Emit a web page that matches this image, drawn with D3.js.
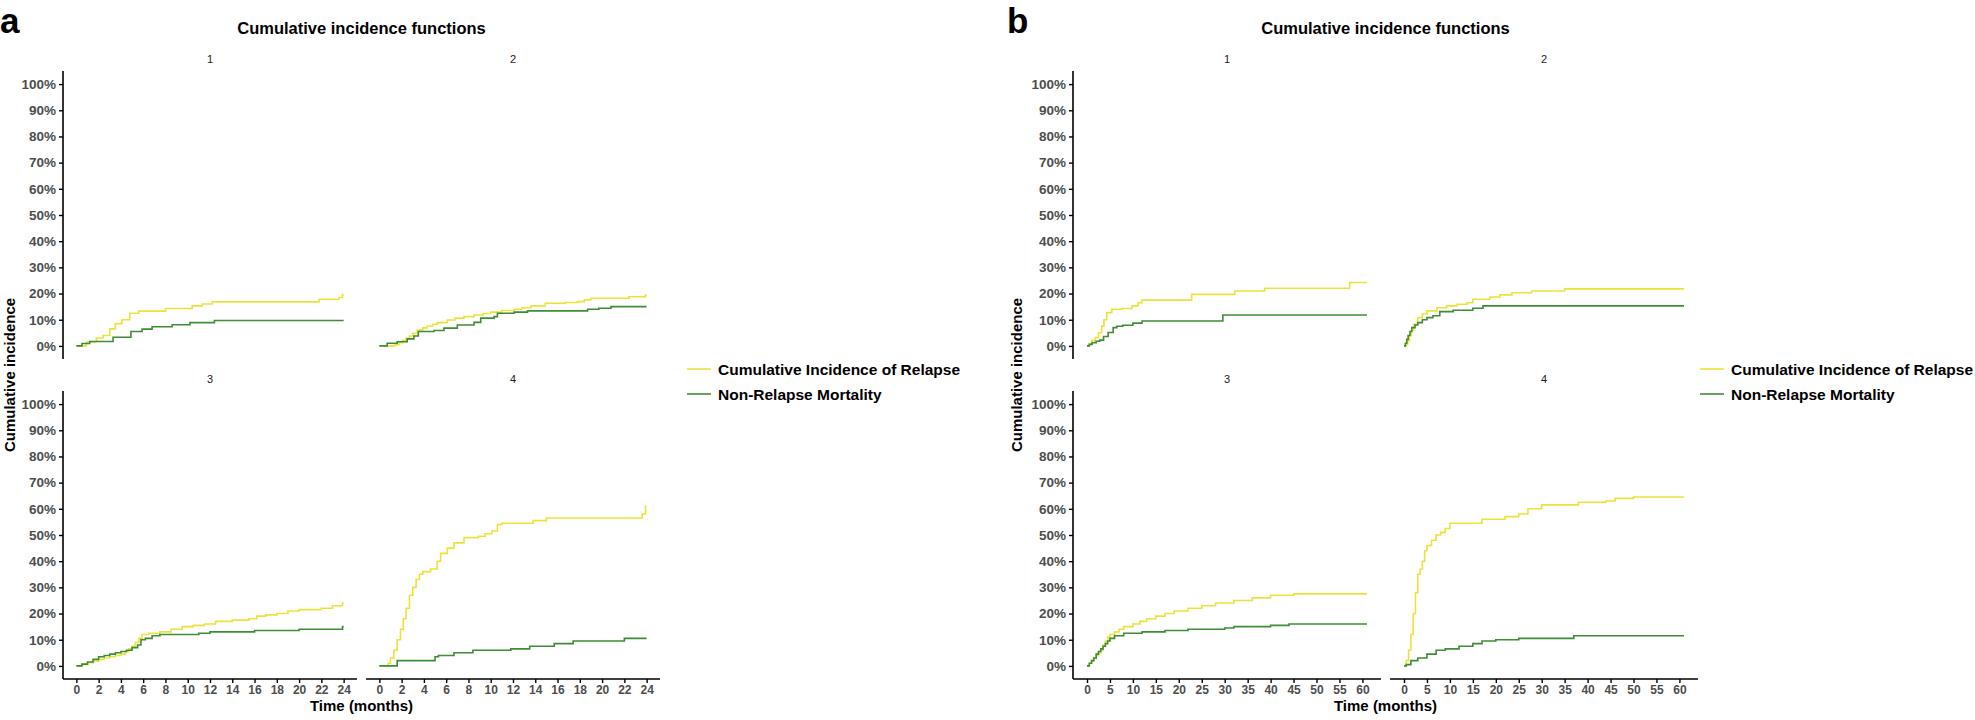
<!DOCTYPE html>
<html><head><meta charset="utf-8">
<script src="https://cdn.jsdelivr.net/npm/d3@7"></script>
<style>body{margin:0;background:#fff}svg{display:block}</style>
</head><body>
<svg id="c" width="1975" height="720"></svg>
<script>
// ---------- data ----------
const panelLetters = ["a", "b"];
const titleText = "Cumulative incidence functions";
const facetLabels = ["1", "2", "3", "4"];
const seriesNames = ["Cumulative Incidence of Relapse", "Non-Relapse Mortality"];
const seriesColors = ["#EBE33B", "#3F8C36"];
const yTickValues = [0, 10, 20, 30, 40, 50, 60, 70, 80, 90, 100];
const xTicksA = [0, 2, 4, 6, 8, 10, 12, 14, 16, 18, 20, 22, 24];
const xTicksB = [0, 5, 10, 15, 20, 25, 30, 35, 40, 45, 50, 55, 60];
const maxTimeA = 24;
const maxTimeB = 61;

// panel a, [time (months), cumulative incidence %]
const aRelapse1 = [[0,0],[0.9,1.5],[1.8,3],[2.4,4],[3,6.5],[3.5,8.5],[4.1,10],[4.8,12.5],[5.6,13.3],[8,14.3],[10.4,15.3],[11.3,16],[12.2,16.8],[21.8,17.8],[23.6,18.5],[23.9,19.6],[24,19.6]];
const aNRM1 = [[0,0],[0.5,0.9],[1.2,1.7],[3.3,3.3],[4.9,5.5],[5.9,6.4],[6.8,7.3],[8.6,8.1],[10.2,8.9],[12.4,9.7],[24,9.7]];
const aRelapse2 = [[0,0],[1.4,0.5],[1.8,1.2],[2.1,2.0],[2.4,2.9],[2.7,3.8],[3.0,4.8],[3.4,6.1],[3.9,6.9],[4.3,7.6],[4.8,8.3],[5.2,8.9],[6.1,9.9],[6.8,10.6],[7.6,11.2],[8.5,11.8],[9.3,12.4],[10.0,12.9],[11.0,13.5],[12.1,14.0],[12.8,14.6],[13.6,15.3],[14.9,16.3],[16.7,16.6],[17.8,16.9],[18.4,17.6],[19.0,18.2],[22.4,18.8],[23.9,19.5],[24,19.5]];
const aNRM2 = [[0,0],[0.7,1.0],[1.6,1.6],[2.5,2.7],[3.1,3.8],[3.5,5.5],[4.9,5.9],[5.8,6.8],[7.0,8.0],[8.5,9.0],[9.1,10.6],[10.3,11.2],[10.6,12.5],[12.1,12.9],[13.3,13.4],[18.7,14.0],[19.7,14.4],[20.8,15.0],[24,15.0]];
const aRelapse3 = [[0,0],[0.5,0.5],[1,1.2],[1.5,1.8],[2,2.5],[2.5,3],[3,3.5],[3.5,4],[4,4.5],[4.4,5.5],[4.7,6.5],[5,7.5],[5.3,9],[5.6,10.5],[5.9,12],[6.5,12.5],[7.5,13],[8.5,14],[9.5,15],[10.5,15.5],[11.5,16],[12.5,17],[14,17.5],[15.5,18],[16.2,19],[17,19.5],[18,20],[19,21],[20,21.5],[22,22],[23,23],[23.9,24],[24,24]];
const aNRM3 = [[0,0],[0.5,0.7],[1,1.5],[1.5,2.5],[2,3.5],[2.5,4],[3,4.5],[3.5,5],[4,5.5],[4.5,6],[5,7],[5.5,8],[5.8,10],[6.2,10.5],[6.8,11.5],[7.5,12],[11,12.5],[12,13],[16,13.5],[20,14],[23.9,15],[24,15]];
const aRelapse4 = [[0,0],[0.8,1],[1.0,3],[1.3,6],[1.6,10],[1.9,14],[2.15,18],[2.4,22],[2.7,27],[3.0,30],[3.3,33],[3.6,35],[3.9,36],[4.6,37],[5.2,40],[5.5,43],[6.1,45],[6.7,47],[7.6,49],[8.9,49.5],[9.5,50.5],[10.1,51.5],[10.6,54],[11,54.5],[13.8,55.5],[15,56.5],[23.6,58],[23.9,61],[24,61]];
const aNRM4 = [[0,0],[1.6,2],[5,3.5],[5.3,4],[6.7,5],[8.4,6],[11.8,6.5],[13.5,7.5],[15.7,8.5],[17.4,9.5],[22,10.5],[24,10.5]];

// panel b
const bRelapse1 = [[0,0],[0.5,0.8],[1,2],[1.8,3.2],[2.5,5],[3.2,7.6],[3.7,10],[4.3,12.7],[5.4,14.0],[7.6,14.3],[9.8,15.3],[11.1,16.5],[12,17.5],[22.8,19.7],[32.2,21],[38.7,22],[57.2,24.2],[61,24.2]];
const bNRM1 = [[0,0],[0.5,0.6],[1.1,1.2],[2.0,1.8],[2.8,2.2],[3.6,3.6],[4.6,5.1],[5.7,7.0],[6.5,7.5],[7.8,7.9],[10,8.7],[12,9.5],[29.6,11.8],[61,11.8]];
const bRelapse2 = [[0,0],[0.4,0.5],[0.8,2],[1.2,4],[1.6,6],[2.1,8.3],[3,10.8],[4,12.2],[5,13.4],[7.2,14.6],[9.3,15.3],[11.5,15.9],[13.7,16.5],[15,17.8],[18.7,18.7],[20.9,19.5],[23.5,20.3],[27.8,21],[35,21.8],[61,21.8]];
const bNRM2 = [[0,0],[0.3,1],[0.6,2.5],[0.9,4],[1.3,5.5],[1.7,7],[2.4,8],[3,8.9],[4,10],[5,10.8],[6.3,11.5],[7.8,13.1],[10.7,13.6],[15,14.4],[17.2,15.3],[61,15.3]];
const bRelapse3 = [[0,0],[0.5,1],[1,2],[1.5,3],[2,4],[2.5,5],[3,6],[3.5,8],[4,9.5],[4.5,11],[5,12],[6,13],[7,14],[8,15],[10,16],[11.5,17],[13,18],[15,19],[17,20],[19,21],[22,22],[25,23],[28,24],[32,25],[36,26],[40,27],[45,27.5],[61,27.5]];
const bNRM3 = [[0,0],[0.5,1],[1,2],[1.5,3],[2,4.5],[2.5,5.5],[3,6.5],[3.5,7.5],[4,8.5],[4.5,9.5],[5,10.5],[6,11.5],[8,12.5],[12,13],[17,13.5],[22,14],[30,14.5],[32,15],[40,15.5],[44,16],[61,16]];
const bRelapse4 = [[0,0],[0.5,2],[1,6],[1.5,12],[2,20],[2.5,28],[3,35],[3.5,37],[4,40],[4.5,44],[5,46],[6,48],[7,50],[8,51],[9,52.5],[10,54.5],[17,56],[22,57],[25,58],[27,60],[30,61.5],[38,62.5],[44,63],[46,64],[50,64.5],[61,64.5]];
const bNRM4 = [[0,0],[0.5,0.5],[1.5,2],[3,3],[5,4.5],[7,6],[9,6.5],[12,7.5],[15,8.5],[17,9.5],[20,10],[25,10.5],[37,11.5],[61,11.5]];

// ---------- drawing ----------
const FONT = "'Liberation Sans', Arial, Helvetica, sans-serif";
const svg = d3.select("#c").style("font-family", FONT);

function drawPanel(cfg) {
  const g = svg.append("g");
  const rows = [{top: 71, h: 288}, {top: 391, h: 288}];
  const cols = [cfg.left, cfg.left + cfg.w + cfg.gap];
  const centerX = (cols[0] + cols[1] + cfg.w) / 2;
  // panel letter
  g.append("text").attr("x", cfg.letterX).attr("y", 33)
    .attr("font-size", 35).attr("font-weight", "bold").attr("fill", "#000").text(cfg.letter);
  // title
  g.append("text").attr("x", centerX).attr("y", 34).attr("text-anchor", "middle")
    .attr("font-size", 16.5).attr("font-weight", "bold").attr("fill", "#000").text(titleText);

  const xDom = [-0.05 * cfg.maxT, 1.05 * cfg.maxT];
  const line = d3.line().curve(d3.curveStepAfter);

  cfg.facets.forEach((f, i) => {
    const r = rows[Math.floor(i / 2)], cx = cols[i % 2];
    const x = d3.scaleLinear().domain(xDom).range([cx, cx + cfg.w]);
    const y = d3.scaleLinear().domain([-5, 105]).range([r.top + r.h, r.top]);
    // strip label
    g.append("text").attr("x", cx + cfg.w / 2).attr("y", r.top - 8).attr("text-anchor", "middle")
      .attr("font-size", 11).attr("fill", "#1a1a1a").text(facetLabels[i]);
    // y axis (left column)
    if (i % 2 === 0) {
      const ya = g.append("g").attr("transform", `translate(${cx},0)`)
        .call(d3.axisLeft(y).tickValues(yTickValues).tickFormat(d => d + "%").tickSize(4).tickPadding(3));
      ya.select(".domain").attr("stroke", "#000").attr("stroke-width", 1.6).attr("d", `M0,${r.top}V${r.top + r.h}`);
      ya.selectAll(".tick line").attr("stroke", "#000").attr("stroke-width", 1.4);
      ya.selectAll(".tick text").attr("font-size", 13.5).attr("font-weight", "bold").attr("fill", "#4D4D4D").attr("font-family", FONT);
    }
    // x axis (bottom row)
    if (i >= 2) {
      const xa = g.append("g").attr("transform", `translate(0,${r.top + r.h})`)
        .call(d3.axisBottom(x).tickValues(cfg.xTicks).tickFormat(d => d).tickSize(4).tickPadding(2));
      xa.select(".domain").attr("stroke", "#000").attr("stroke-width", 1.6).attr("d", `M${cx},0H${cx + cfg.w}`);
      xa.selectAll(".tick line").attr("stroke", "#000").attr("stroke-width", 1.4);
      xa.selectAll(".tick text").attr("font-size", 12).attr("font-weight", "bold").attr("fill", "#4D4D4D").attr("font-family", FONT);
    }
    line.x(d => x(d[0])).y(d => y(d[1]));
    f.forEach((series, s) => {
      g.append("path").attr("d", line(series)).attr("fill", "none")
        .attr("stroke", seriesColors[s]).attr("stroke-width", 1.6);
    });
  });

  // y axis title
  g.append("text").attr("transform", `translate(${cfg.yTitleX},${(rows[0].top + rows[1].top + rows[1].h) / 2}) rotate(-90)`)
    .attr("text-anchor", "middle").attr("font-size", 15).attr("font-weight", "bold").attr("fill", "#000")
    .text("Cumulative incidence");
  // x axis title
  g.append("text").attr("x", centerX).attr("y", 711).attr("text-anchor", "middle")
    .attr("font-size", 15).attr("font-weight", "bold").attr("fill", "#000").text("Time (months)");

  // legend
  seriesNames.forEach((name, s) => {
    const yy = 369 + s * 25;
    g.append("line").attr("x1", cfg.legendX).attr("x2", cfg.legendX + 24).attr("y1", yy).attr("y2", yy)
      .attr("stroke", seriesColors[s]).attr("stroke-width", 1.6);
    g.append("text").attr("x", cfg.legendX + 31).attr("y", yy + 5.5).attr("font-size", 15.5)
      .attr("font-weight", "bold").attr("fill", "#000").text(name);
  });
}

drawPanel({letter: panelLetters[0], letterX: 0, left: 63, w: 294, gap: 9, maxT: maxTimeA,
  xTicks: xTicksA, yTitleX: 15, legendX: 687,
  facets: [[aRelapse1, aNRM1], [aRelapse2, aNRM2], [aRelapse3, aNRM3], [aRelapse4, aNRM4]]});
drawPanel({letter: panelLetters[1], letterX: 1007, left: 1073, w: 308, gap: 9, maxT: maxTimeB,
  xTicks: xTicksB, yTitleX: 1022, legendX: 1700,
  facets: [[bRelapse1, bNRM1], [bRelapse2, bNRM2], [bRelapse3, bNRM3], [bRelapse4, bNRM4]]});
</script>
</body></html>
